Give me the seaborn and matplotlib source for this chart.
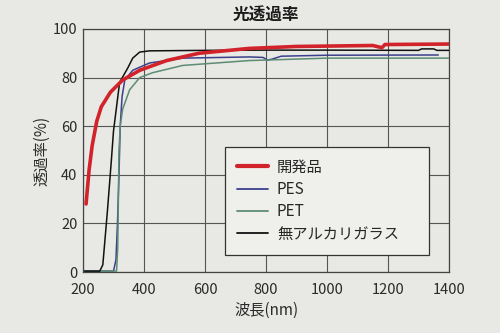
import matplotlib
matplotlib.use("Agg")
import matplotlib.pyplot as plt
import seaborn as sns
import pandas as pd

# ---- data ----
series_names = ["開発品", "PES", "PET", "無アルカリガラス"]

dev_wl = [210, 220, 230, 245, 260, 290, 330, 386, 474, 580, 745, 900, 1150, 1170, 1180, 1190, 1400]
dev_T = [28, 42, 52, 62, 68, 74, 79, 83, 87, 90, 92, 92.8, 93.2, 92.6, 92.3, 93.6, 93.8]

pes_wl = [205, 300, 308, 313, 318, 322, 328, 337, 363, 418, 527, 745, 790, 805, 820, 850, 1000, 1365]
pes_T = [0.4, 0.4, 5, 20, 40, 60, 72, 79, 83, 86, 88, 88.5, 88.3, 87.2, 87.6, 88.8, 89.2, 89.3]

pet_wl = [205, 310, 314, 316, 318, 322, 330, 353, 386, 428, 527, 745, 1000, 1400]
pet_T = [0.4, 0.4, 10, 30, 50, 60, 67, 75, 80, 82, 85, 87, 88, 88]

glass_wl = [205, 255, 265, 280, 293, 300, 320, 347, 363, 386, 418, 600, 800, 1000, 1300, 1310, 1350, 1360, 1400]
glass_T = [0.4, 0.4, 3, 25, 46, 58, 78, 84, 88, 90.5, 91, 91.2, 91.3, 91.3, 91.2, 91.8, 91.8, 91.2, 91.2]

x_ticks = [200, 400, 600, 800, 1000, 1200, 1400]
y_ticks = [0, 20, 40, 60, 80, 100]

df = pd.concat([
    pd.DataFrame({"wl": dev_wl, "T": dev_T, "s": series_names[0]}),
    pd.DataFrame({"wl": pes_wl, "T": pes_T, "s": series_names[1]}),
    pd.DataFrame({"wl": pet_wl, "T": pet_T, "s": series_names[2]}),
    pd.DataFrame({"wl": glass_wl, "T": glass_T, "s": series_names[3]}),
], ignore_index=True)

sns.set_style("white")
plt.rcParams["font.family"] = ["Noto Sans CJK JP", "DejaVu Sans"]

bg = "#e8e8e4"
fig = plt.figure(figsize=(5, 3.33), dpi=100, facecolor=bg)
ax = fig.add_axes([0.166, 0.183, 0.732, 0.730])
ax.set_facecolor(bg)

palette = {"開発品": "#d2232a", "PES": "#3b3f8c", "PET": "#5d8c74", "無アルカリガラス": "#111111"}
widths = {"開発品": 2.6, "PES": 1.1, "PET": 1.1, "無アルカリガラス": 1.1}

for name in series_names:
    sub = df[df["s"] == name]
    sns.lineplot(data=sub, x="wl", y="T", ax=ax, color=palette[name],
                 linewidth=widths[name], label=name, estimator=None, sort=False,
                 zorder=3 if name != "開発品" else 4)

ax.set_xlim(200, 1400)
ax.set_ylim(0, 100)
ax.set_xticks(x_ticks)
ax.set_yticks(y_ticks)
ax.grid(True, color="#555555", linewidth=0.8)
ax.tick_params(length=0, labelsize=10.5, labelcolor="#2a2a2a")
ax.tick_params(axis="x", pad=8)
ax.tick_params(axis="y", pad=4)
for sp in ax.spines.values():
    sp.set_color("#444444")
    sp.set_linewidth(0.9)

ax.set_xlabel("波長(nm)", fontsize=11, color="#2a2a2a", labelpad=3)
ax.set_ylabel("透過率(%)", fontsize=11, color="#2a2a2a", labelpad=2)
fig.text(0.532, 0.955, "光透過率", ha="center", va="center", fontsize=12,
         fontweight="bold", color="#1a1a1a")

leg = ax.legend(loc="lower left", bbox_to_anchor=(0.388, 0.07, 0.557, 0.44), mode="expand",
                frameon=True, fancybox=False, fontsize=11, handlelength=2.0,
                handletextpad=0.6, borderpad=0.8, labelspacing=0.35, borderaxespad=0)
leg.get_frame().set_edgecolor("#333333")
leg.get_frame().set_facecolor("#efefeb")
leg.get_frame().set_alpha(1)
leg.get_frame().set_linewidth(0.9)
for line in leg.get_lines():
    line.set_linewidth(1.3 if line.get_label() != "開発品" else 3.0)

fig.savefig("out.png", dpi=100, facecolor=bg)
